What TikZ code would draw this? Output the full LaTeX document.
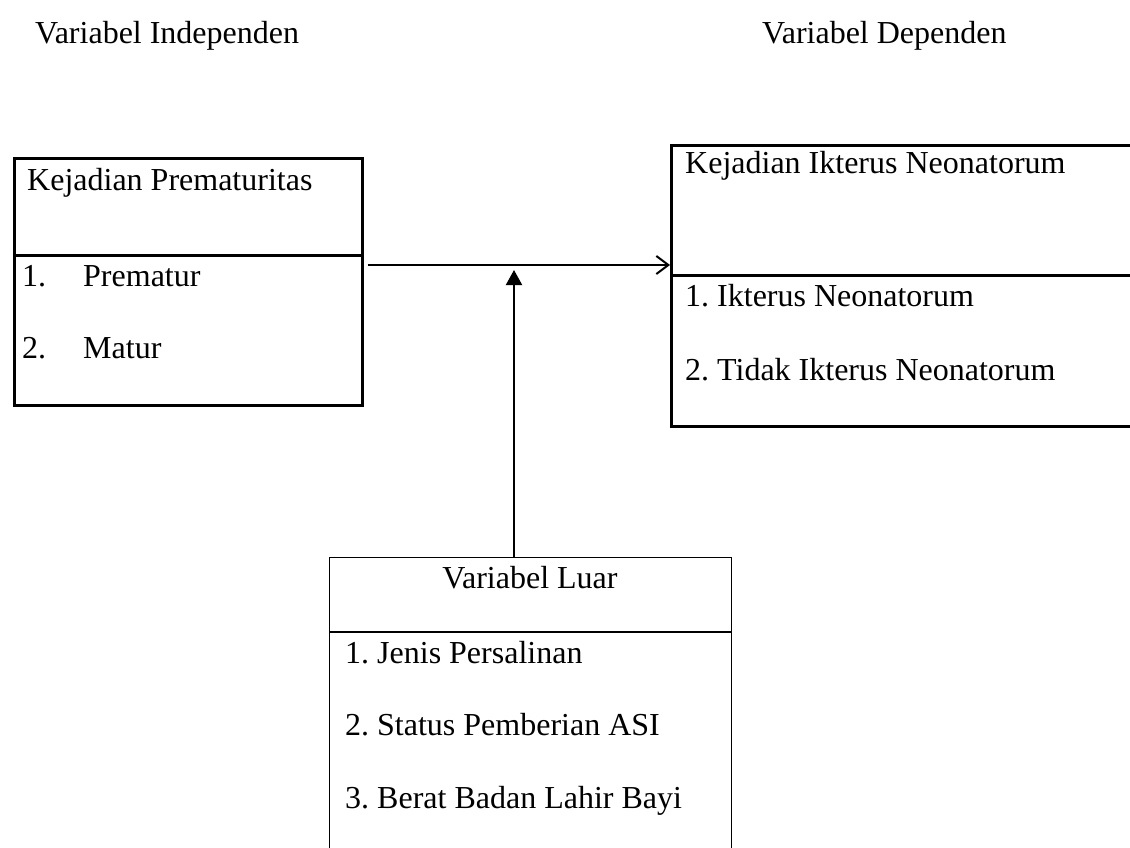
\documentclass[tikz,border=0pt]{standalone}
\usepackage{fontspec}
\setmainfont{Liberation Serif}
\usetikzlibrary{arrows.meta}
\begin{document}
\frenchspacing
\begin{tikzpicture}[x=1pt,y=-1pt,
  txt/.style={anchor=base west,inner sep=0pt,font=\fontsize{32}{38}\selectfont},
  thickbox/.style={draw,line width=3pt,rectangle,inner sep=0pt,anchor=north west},
  thinbox/.style={draw,line width=1.4pt,rectangle,inner sep=0pt,anchor=north west},
  conn/.style={line width=2pt}]
\clip (0,0) rectangle (1130,848);
\fill[white] (0,0) rectangle (1130,848);
% headings
\node[txt] (hin) at (35,44) {Variabel Independen};
\node[txt] (hdep) at (762,44) {Variabel Dependen};
% box 1
\node[thickbox,minimum width=348pt,minimum height=247pt] (b1) at (12.5,157) {};
\draw[line width=3pt] (12.5,255) -- (360.5,255);
\node[txt] (t1) at (27,190) {Kejadian Prematuritas};
\node[txt] (t1a) at (22,286) {1.};
\node[txt] (t1b) at (83,286) {Prematur};
\node[txt] (t1c) at (22,358) {2.};
\node[txt] (t1d) at (83,358) {Matur};
% box 2
\node[thickbox,minimum width=460pt,minimum height=281pt] (b2) at (670,144) {};
\draw[line width=3pt] (670,275) -- (1130,275);
\node[txt] (t2) at (685,174) {Kejadian Ikterus Neonatorum};
\node[txt] (t2a) at (685,306) {1. Ikterus Neonatorum};
\node[txt] (t2b) at (685,380) {2. Tidak Ikterus Neonatorum};
% box 3
\node[thinbox,minimum width=402pt,minimum height=340pt] (b3) at (329,557) {};
\draw[line width=1.4pt] (329,632) -- (731,632);
\node[txt,anchor=base] (t3) at (530,588) {Variabel Luar};
\node[txt] (t3a) at (345,663) {1. Jenis Persalinan};
\node[txt] (t3b) at (345,735) {2. Status Pemberian ASI};
\node[txt] (t3c) at (345,808) {3. Berat Badan Lahir Bayi};
% connectors
\coordinate (hs) at ([xshift=4pt]b1.east |- 0,265);
\coordinate (he) at (b2.west |- 0,265);
\draw[conn,-{Straight Barb[length=12pt,width=18pt,line width=2pt]}] (hs) -- (he);
\coordinate (vs) at (514,557);
\coordinate (ve) at (514,270);
\draw[conn,-{Triangle[length=15pt,width=16pt]}] (vs) -- (ve);
\end{tikzpicture}
\end{document}
